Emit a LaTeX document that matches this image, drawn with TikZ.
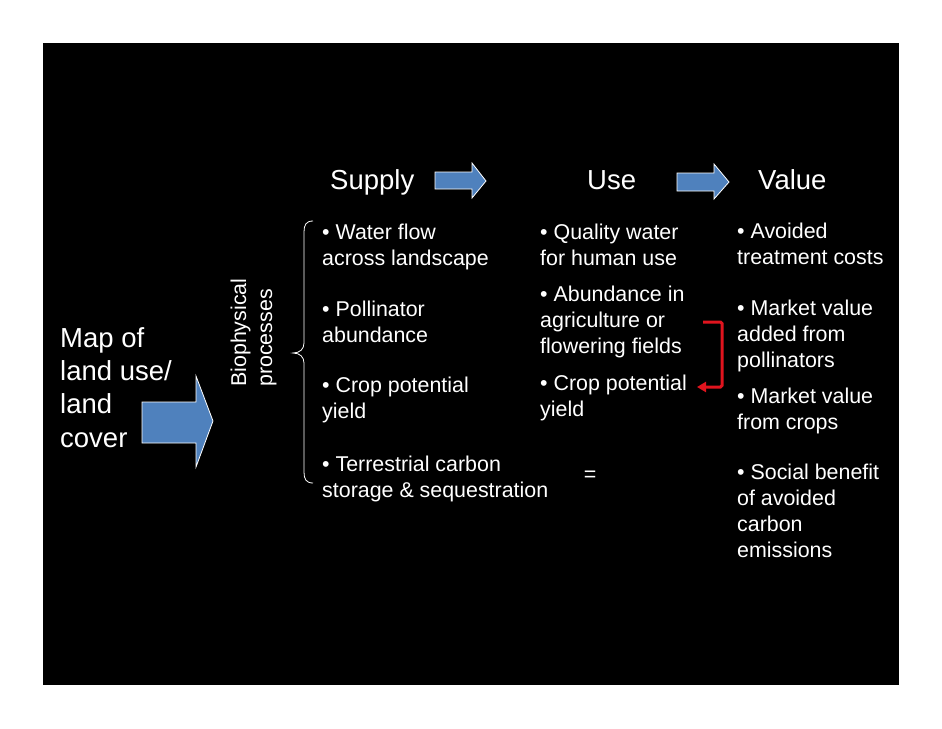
\documentclass[tikz,border=0pt]{standalone}
\usepackage{fontspec}
\setmainfont{Liberation Sans}
\usetikzlibrary{arrows.meta}
\definecolor{blockblue}{HTML}{4F81BD}
\definecolor{linkred}{HTML}{E0141E}

\begin{document}
\begin{tikzpicture}[x=1pt, y=-1pt,
    bodytext/.style={text=white, anchor=base west, inner sep=0pt, align=left,
        font=\fontsize{21.4}{25.8}\selectfont},
    headtext/.style={text=white, anchor=base west, inner sep=0pt,
        font=\fontsize{27.5}{33.3}\selectfont},
    blockarrow/.style={fill=blockblue, draw=white, line width=0.8pt, line join=miter}]
    % Slide background
    \useasboundingbox (0,0) rectangle (942,728);
    \fill[white] (0,0) rectangle (942,728);
    \fill[black] (43,43) rectangle (899,685);

    % Input map and its arrow (nodes are placed at the baseline of their last line)
    \node[headtext, align=left] (map) at (60,447) {Map of\\land use/\\land\\cover};
    \filldraw[blockarrow] (142,402) -- (196,402) -- (196,376) -- (213,421)
        -- (196,467) -- (196,443) -- (142,443) -- cycle;

    % Biophysical processes label and brace
    \node[bodytext, rotate=90] (bio) at (272,387) {Biophysical\\processes};
    \draw[white, line width=0.8pt] (313,221) .. controls (306,221) and (304,225) .. (304,232)
        -- (304,343) .. controls (304,349) and (300,353) .. (293,353)
        .. controls (300,353) and (304,357) .. (304,363)
        -- (304,472) .. controls (304,479) and (306,483) .. (313,483);

    % Column headers with arrows
    \node[headtext] (supply) at (330,189) {Supply};
    \node[headtext] (use) at (587,189) {Use};
    \node[headtext] (value) at (758,189) {Value};
    \filldraw[blockarrow] (435,172) -- (472,172) -- (472,163) -- (486,181)
        -- (472,198) -- (472,189) -- (435,189) -- cycle;
    \filldraw[blockarrow] (677,173) -- (714,173) -- (714,164) -- (729,182)
        -- (714,199) -- (714,191) -- (677,191) -- cycle;

    % Supply column
    \node[bodytext] (water) at (322,265) {• Water flow\\across landscape};
    \node[bodytext] (pollin) at (322,342) {• Pollinator\\abundance};
    \node[bodytext] (crop) at (322,418) {• Crop potential\\yield};
    \node[bodytext] (carbon) at (322,497) {• Terrestrial carbon\\storage \& sequestration};

    % Use column
    \node[bodytext] (quality) at (540,265) {• Quality water\\for human use};
    \node[bodytext] (abund) at (540,353) {• Abundance in\\agriculture or\\flowering fields};
    \node[bodytext] (cropuse) at (540,416) {• Crop potential\\yield};
    \node[bodytext, anchor=base] (equal) at (590,481) {=};

    % Value column
    \node[bodytext] (avoided) at (737,264) {• Avoided\\treatment costs};
    \node[bodytext] (pollval) at (737,367) {• Market value\\added from\\pollinators};
    \node[bodytext] (cropval) at (737,429) {• Market value\\from crops};
    \node[bodytext] (social) at (737,557) {• Social benefit\\of avoided\\carbon\\emissions};

    % Pollination feeds crop yield
    \coordinate (linkstart) at (703,322);
    \coordinate (linkend) at (697,387);
    \draw[linkred, line width=3pt, rounded corners=1.5pt,
        -{Triangle[length=9pt, width=10pt]}] (linkstart) -- ++(19,0) |- (linkend);
\end{tikzpicture}
\end{document}
